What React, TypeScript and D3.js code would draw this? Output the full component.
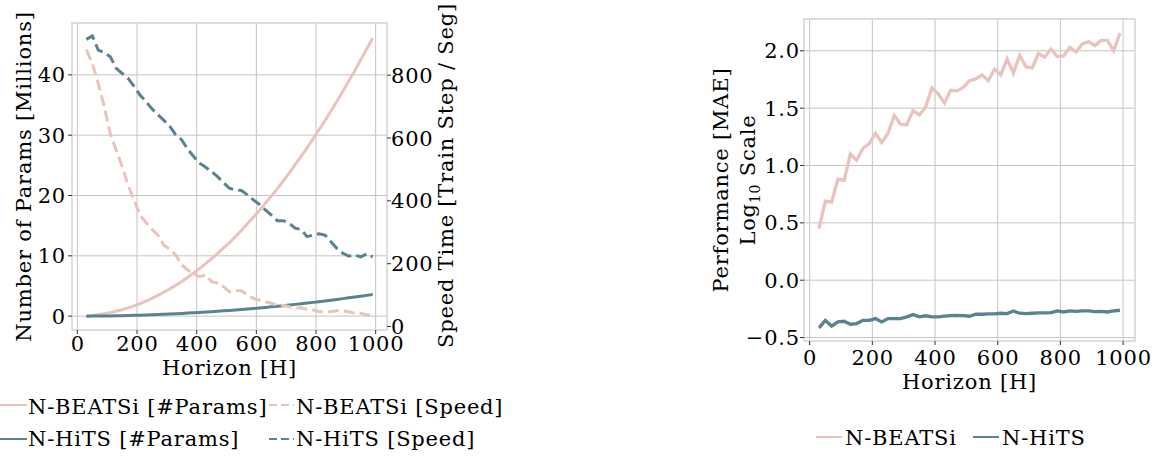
import React from "react";
import * as d3 from "d3";

const horizons = [30, 50, 70, 90, 110, 130, 150, 170, 190, 210, 230, 250, 270, 290, 310, 330, 350, 370, 390, 410, 430, 450, 470, 490, 510, 530, 550, 570, 590, 610, 630, 650, 670, 690, 710, 730, 750, 770, 790, 810, 830, 850, 870, 890, 910, 930, 950, 970, 990];

const nbeatsParams = [0.04, 0.12, 0.23, 0.38, 0.57, 0.8, 1.06, 1.36, 1.7, 2.08, 2.47, 2.94, 3.43, 3.95, 4.52, 5.12, 5.76, 6.44, 7.16, 7.91, 8.7, 9.53, 10.4, 11.3, 12.2, 13.2, 14.2, 15.3, 16.4, 17.5, 18.7, 19.9, 21.1, 22.4, 23.7, 25.1, 26.5, 27.9, 29.4, 30.9, 32.4, 34.0, 35.6, 37.3, 39.0, 40.7, 42.5, 44.3, 46.1];
const nhitsParams = [0.0, 0.01, 0.02, 0.03, 0.04, 0.06, 0.08, 0.11, 0.13, 0.16, 0.19, 0.23, 0.27, 0.31, 0.35, 0.4, 0.45, 0.5, 0.56, 0.62, 0.68, 0.74, 0.81, 0.88, 0.95, 1.03, 1.11, 1.19, 1.27, 1.36, 1.45, 1.54, 1.64, 1.74, 1.84, 1.95, 2.06, 2.17, 2.28, 2.4, 2.52, 2.64, 2.77, 2.9, 3.03, 3.16, 3.3, 3.44, 3.58];

const nbeatsSpeed = [881, 838, 774, 700, 615, 562, 509, 450, 403, 355, 331, 309, 291, 259, 246, 228, 196, 180, 167, 159, 164, 143, 138, 127, 111, 114, 114, 100, 90, 84, 79, 74, 68, 68, 63, 58, 60, 55, 53, 47, 47, 47, 50, 50, 47, 42, 42, 37, 37];
const nhitsSpeed = [914, 925, 880, 872, 859, 822, 806, 790, 764, 737, 716, 693, 674, 656, 637, 610, 594, 564, 541, 520, 507, 493, 477, 458, 440, 435, 433, 419, 403, 389, 371, 355, 337, 337, 329, 313, 309, 286, 291, 295, 291, 270, 249, 233, 224, 228, 222, 231, 222];

const nbeatsMAE = [0.45, 0.69, 0.68, 0.88, 0.87, 1.1, 1.045, 1.15, 1.19, 1.28, 1.2, 1.28, 1.435, 1.36, 1.355, 1.48, 1.44, 1.51, 1.675, 1.625, 1.545, 1.655, 1.65, 1.68, 1.74, 1.755, 1.79, 1.74, 1.84, 1.79, 1.93, 1.805, 1.96, 1.86, 1.85, 1.975, 1.945, 2.015, 1.95, 1.955, 2.03, 1.99, 2.06, 2.08, 2.045, 2.09, 2.09, 2.0, 2.155];
const nhitsMAE = [-0.416, -0.35, -0.4, -0.364, -0.358, -0.384, -0.378, -0.35, -0.35, -0.335, -0.364, -0.335, -0.335, -0.335, -0.32, -0.3, -0.32, -0.31, -0.32, -0.32, -0.314, -0.309, -0.306, -0.309, -0.314, -0.297, -0.297, -0.294, -0.294, -0.288, -0.291, -0.268, -0.288, -0.291, -0.288, -0.285, -0.285, -0.283, -0.268, -0.277, -0.268, -0.271, -0.268, -0.268, -0.274, -0.271, -0.277, -0.268, -0.262];

const xTicks = [0, 200, 400, 600, 800, 1000];
const paramTicks = [0, 10, 20, 30, 40];
const speedTicks = [0, 200, 400, 600, 800];
const maeTicks = [-0.5, 0.0, 0.5, 1.0, 1.5, 2.0];

const PINK = "#e9c3bd";
const BLUE = "#5a838f";
const GRID = "#c4c4c4";
const FRAME = "#d4d4d4";
const TICK = "#333";
const FONT = "'DejaVu Serif', 'Liberation Serif', serif";
const FS = 21;
const LS = 0.8;

export default function App() {
  const L = { x0: 72, x1: 387, y0: 23, y1: 330 };
  const R = { x0: 804, x1: 1135, y0: 19, y1: 341 };

  const xL = d3.scaleLinear().domain([-18, 1038]).range([L.x0, L.x1]);
  const yP = d3.scaleLinear().domain([-2.3, 48.6]).range([L.y1, L.y0]);
  const yS = d3.scaleLinear().domain([-11, 966]).range([L.y1, L.y0]);

  const xR = d3.scaleLinear().domain([-18, 1038]).range([R.x0, R.x1]);
  const yM = d3.scaleLinear().domain([-0.53, 2.277]).range([R.y1, R.y0]);

  const mk = (xs: d3.ScaleLinear<number, number>, ys: d3.ScaleLinear<number, number>, vals: number[]) =>
    d3.line<number>().x((_, i) => xs(horizons[i])).y((v) => ys(v))(vals) || "";

  const fmtMae = (v: number) => (v < 0 ? "\u2212" : "") + Math.abs(v).toFixed(1);

  return (
    <svg width={1161} height={457} style={{ display: "block", position: "absolute", left: 0, top: 0, fontFamily: FONT, letterSpacing: LS }} fontSize={FS}>
      <rect width={1161} height={457} fill="#fff" />
      <g>
        {xTicks.map((t) => (
          <line key={"gx" + t} x1={xL(t)} x2={xL(t)} y1={L.y0} y2={L.y1} stroke={GRID} strokeWidth={1} />
        ))}
        {paramTicks.map((t) => (
          <line key={"gy" + t} x1={L.x0} x2={L.x1} y1={yP(t)} y2={yP(t)} stroke={GRID} strokeWidth={1} />
        ))}
        <rect x={L.x0} y={L.y0} width={L.x1 - L.x0} height={L.y1 - L.y0} fill="none" stroke={FRAME} strokeWidth={1.5} />
        <path d={mk(xL, yP, nbeatsParams)} fill="none" stroke={PINK} strokeWidth={3} />
        <path d={mk(xL, yP, nhitsParams)} fill="none" stroke={BLUE} strokeWidth={3} />
        <path d={mk(xL, yS, nbeatsSpeed)} fill="none" stroke={PINK} strokeWidth={3} strokeDasharray="11 5" />
        <path d={mk(xL, yS, nhitsSpeed)} fill="none" stroke={BLUE} strokeWidth={3} strokeDasharray="11 5" />
        {xTicks.map((t) => (
          <g key={"xt" + t}>
            <line x1={xL(t)} x2={xL(t)} y1={L.y1} y2={L.y1 + 4} stroke={TICK} />
            <text x={xL(t) + LS / 2} y={351} textAnchor="middle">{t}</text>
          </g>
        ))}
        {paramTicks.map((t) => (
          <g key={"pt" + t}>
            <line x1={L.x0 - 4} x2={L.x0} y1={yP(t)} y2={yP(t)} stroke={TICK} />
            <text x={L.x0 - 6} y={yP(t)} dy="0.36em" textAnchor="end">{t}</text>
          </g>
        ))}
        {speedTicks.map((t) => (
          <g key={"st" + t}>
            <line x1={L.x1} x2={L.x1 + 4} y1={yS(t)} y2={yS(t)} stroke={TICK} />
            <text x={L.x1 + 4} y={yS(t)} dy="0.36em" textAnchor="start">{t}</text>
          </g>
        ))}
        <text x={(L.x0 + L.x1) / 2} y={375} textAnchor="middle">Horizon [H]</text>
        <text transform={`translate(31,${(L.y0 + L.y1) / 2}) rotate(-90)`} textAnchor="middle">Number of Params [Millions]</text>
        <text transform={`translate(453,${(L.y0 + L.y1) / 2 - 1}) rotate(-90)`} textAnchor="middle">Speed Time [Train Step / Seg]</text>
      </g>

      <g>
        <line x1={0} x2={27} y1={405} y2={405} stroke={PINK} strokeWidth={2} />
        <text x={28} y={414}>N-BEATSi [#Params]</text>
        <line x1={269} x2={294} y1={405} y2={405} stroke={PINK} strokeWidth={2} strokeDasharray="8 4" />
        <text x={296} y={414}>N-BEATSi [Speed]</text>
        <line x1={0} x2={27} y1={439} y2={439} stroke={BLUE} strokeWidth={2} />
        <text x={28} y={446}>N-HiTS [#Params]</text>
        <line x1={269} x2={294} y1={439} y2={439} stroke={BLUE} strokeWidth={2} strokeDasharray="8 4" />
        <text x={296} y={446}>N-HiTS [Speed]</text>
      </g>

      <g>
        {xTicks.map((t) => (
          <line key={"rgx" + t} x1={xR(t)} x2={xR(t)} y1={R.y0} y2={R.y1} stroke={GRID} strokeWidth={1} />
        ))}
        {maeTicks.map((t) => (
          <line key={"rgy" + t} x1={R.x0} x2={R.x1} y1={yM(t)} y2={yM(t)} stroke={GRID} strokeWidth={1} />
        ))}
        <rect x={R.x0} y={R.y0} width={R.x1 - R.x0} height={R.y1 - R.y0} fill="none" stroke={FRAME} strokeWidth={1.5} />
        <path d={mk(xR, yM, nbeatsMAE)} fill="none" stroke={PINK} strokeWidth={3.3} />
        <path d={mk(xR, yM, nhitsMAE)} fill="none" stroke={BLUE} strokeWidth={3.3} />
        {xTicks.map((t) => (
          <g key={"rxt" + t}>
            <line x1={xR(t)} x2={xR(t)} y1={R.y1} y2={R.y1 + 4} stroke={TICK} />
            <text x={xR(t) + LS / 2} y={365} textAnchor="middle">{t}</text>
          </g>
        ))}
        {maeTicks.map((t) => (
          <g key={"rmt" + t}>
            <line x1={R.x0 - 4} x2={R.x0} y1={yM(t)} y2={yM(t)} stroke={TICK} />
            <text x={R.x0 - 4} y={yM(t)} dy="0.36em" textAnchor="end">{fmtMae(t)}</text>
          </g>
        ))}
        <text x={(R.x0 + R.x1) / 2} y={389} textAnchor="middle">Horizon [H]</text>
        <text transform={`translate(728,${(R.y0 + R.y1) / 2}) rotate(-90)`} textAnchor="middle">Performance [MAE]</text>
        <text transform={`translate(755,${(R.y0 + R.y1) / 2}) rotate(-90)`} textAnchor="middle">
          Log<tspan fontSize={14} dy={5}>10</tspan><tspan dy={-5}> Scale</tspan>
        </text>
      </g>

      <g>
        <line x1={816} x2={842} y1={437} y2={437} stroke={PINK} strokeWidth={2} />
        <text x={845} y={445}>N-BEATSi</text>
        <line x1={973} x2={999} y1={437} y2={437} stroke={BLUE} strokeWidth={2} />
        <text x={1002} y={445}>N-HiTS</text>
      </g>
    </svg>
  );
}
